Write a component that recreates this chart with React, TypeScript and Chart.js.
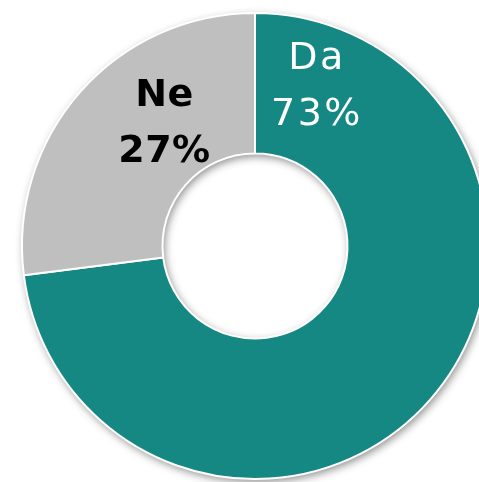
import React, { useEffect, useRef } from "react";
import { Chart, registerables } from "chart.js";

Chart.register(...registerables);

const categories: string[] = ["Da", "Ne"];
const values: number[] = [73, 27];
const colors: string[] = ["#168883", "#BFBFBF"];
const labelColors: string[] = ["#FFFFFF", "#000000"];
const labelWeights: string[] = ["normal", "bold"];
const labelSpacing: string[] = ["2.5px", "0.5px"];
// label placement: fraction along the arc, fraction of the outer radius
const labelArcFrac: number[] = [0.079, 0.632];
const labelRadiusFrac: number[] = [0.75, 0.665];

const PAD = 10;
const RADIUS = 234;
const SIZE = RADIUS * 2 + PAD * 2;
const CX = 255;
const CY = 246;

const shadowPlugin = {
  id: "ringShadow",
  beforeDatasetsDraw(chart: any) {
    const meta = chart.getDatasetMeta(0);
    const arc = meta.data[0];
    if (!arc) return;
    const { x, y, outerRadius, innerRadius } = arc.getProps(["x", "y", "outerRadius", "innerRadius"], true);
    const ctx = chart.ctx;
    ctx.save();
    ctx.beginPath();
    ctx.arc(x, y, outerRadius, 0, Math.PI * 2);
    ctx.moveTo(x + innerRadius, y);
    ctx.arc(x, y, innerRadius, 0, Math.PI * 2, true);
    ctx.closePath();
    ctx.shadowColor = "rgba(0,0,0,0.45)";
    ctx.shadowBlur = 9;
    ctx.shadowOffsetX = 2;
    ctx.shadowOffsetY = 3;
    ctx.fillStyle = "#ffffff";
    ctx.fill("evenodd");
    ctx.restore();
  },
};

const labelPlugin = {
  id: "sliceLabels",
  afterDatasetsDraw(chart: any) {
    const meta = chart.getDatasetMeta(0);
    const ctx = chart.ctx;
    meta.data.forEach((el: any, i: number) => {
      const { x, y, startAngle, endAngle, outerRadius } = el.getProps(
        ["x", "y", "startAngle", "endAngle", "outerRadius"],
        true
      );
      const a = startAngle + (endAngle - startAngle) * labelArcFrac[i];
      const r = outerRadius * labelRadiusFrac[i];
      const lx = x + Math.cos(a) * r;
      const ly = y + Math.sin(a) * r;
      ctx.save();
      ctx.fillStyle = labelColors[i];
      ctx.textAlign = "center";
      ctx.textBaseline = "alphabetic";
      ctx.font = `${labelWeights[i]} 38px "DejaVu Sans", sans-serif`;
      (ctx as any).letterSpacing = labelSpacing[i];
      ctx.fillText(categories[i], lx, ly - 14);
      ctx.fillText(`${values[i]}%`, lx, ly + 42);
      ctx.restore();
    });
  },
};

export default function App() {
  const ref = useRef<HTMLCanvasElement | null>(null);
  useEffect(() => {
    if (!ref.current) return;
    const chart = new Chart(ref.current, {
      type: "doughnut",
      data: {
        labels: categories,
        datasets: [
          {
            data: values,
            backgroundColor: colors,
            borderColor: "#ffffff",
            borderWidth: 2,
          },
        ],
      },
      options: {
        animation: false,
        responsive: false,
        maintainAspectRatio: false,
        cutout: "39.7%",
        layout: { padding: PAD },
        plugins: {
          legend: { display: false },
          tooltip: { enabled: false },
        },
      },
      plugins: [shadowPlugin, labelPlugin],
    });
    return () => chart.destroy();
  }, []);
  return (
    <div
      style={{
        position: "fixed",
        left: 0,
        top: 0,
        width: 479,
        height: 482,
        overflow: "hidden",
        background: "#ffffff",
      }}
    >
      <canvas
        ref={ref}
        width={SIZE}
        height={SIZE}
        style={{
          position: "absolute",
          left: CX - SIZE / 2,
          top: CY - SIZE / 2,
          width: SIZE,
          height: SIZE,
        }}
      />
    </div>
  );
}
